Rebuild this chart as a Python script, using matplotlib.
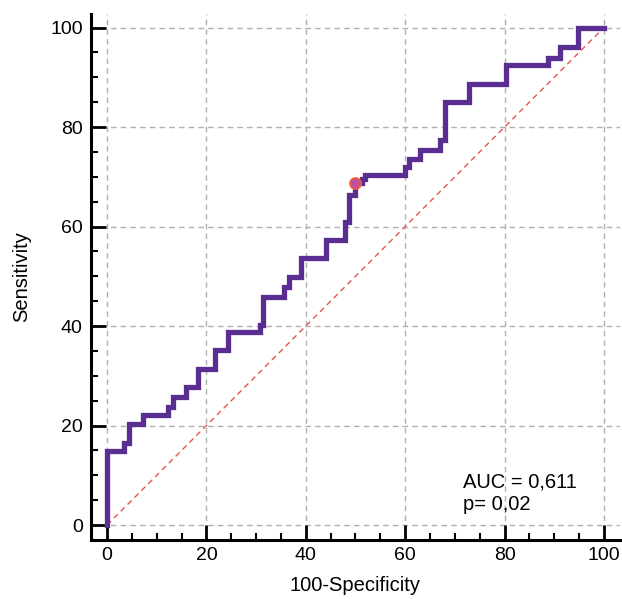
import numpy as np
import matplotlib
matplotlib.use("Agg")
import matplotlib.pyplot as plt
from matplotlib.ticker import MultipleLocator

plt.rcParams['font.family'] = ['Liberation Sans', 'DejaVu Sans']

# ROC curve corners (100-Specificity, Sensitivity), drawn as a post-step line
fpr = [0.0, 0.0, 3.5, 4.5, 7.2, 12.2, 13.2, 15.9, 18.4, 21.8, 24.3, 30.7,
       31.3, 35.6, 36.6, 39.0, 44.0, 47.9, 48.7, 50.0, 51.3, 52.0, 60.0,
       60.7, 63.0, 67.0, 68.1, 72.9, 80.2, 88.8, 91.2, 94.8, 100.0]
tpr = [0.0, 14.8, 16.4, 20.4, 22.1, 23.8, 25.8, 27.8, 31.3, 35.1, 38.8, 40.3,
       45.9, 47.9, 49.9, 53.6, 57.2, 60.9, 66.3, 68.7, 69.6, 70.3, 72.0,
       73.6, 75.3, 77.3, 85.0, 88.7, 92.4, 93.8, 96.0, 100.0, 100.0]

# optimal cut-off point
cut_x = [50.0]
cut_y = [68.7]

auc_text = "AUC = 0,611"
p_text = "p= 0,02"

fig = plt.figure(figsize=(6.22, 5.99), dpi=100)
ax = fig.add_axes([0.1465, 0.0985, 0.85, 0.878])

ax.set_xlim(-3.2, 103.2)
ax.set_ylim(-3.0, 102.7)

# grid only at major ticks
for v in range(0, 101, 20):
    ax.axvline(v, color='#b0b0b0', lw=1.0, ls=(0, (4, 3)), zorder=0)
    ax.axhline(v, color='#b0b0b0', lw=1.0, ls=(0, (4, 3)), zorder=0)

# reference diagonal
ax.plot([0, 100], [0, 100], color='#e05555', lw=1.0, ls=(0, (4, 3)), zorder=1)

ax.step(fpr, tpr, where='post', color='#5a2d91', lw=3.8,
        solid_joinstyle='miter', zorder=3)

ax.plot(cut_x, cut_y, 'o', ms=8, mfc='#c050a0', mec='#f06040', mew=1.2,
        zorder=4)

ax.text(71.7, 7.6, auc_text, fontsize=14.5, va='baseline')
ax.text(71.7, 3.0, p_text, fontsize=14.5, va='baseline')

ax.xaxis.set_major_locator(MultipleLocator(20))
ax.yaxis.set_major_locator(MultipleLocator(20))
# keep minor ticks inside the data range
ax.set_xticks([v for v in range(5, 100, 5) if v % 20], minor=True)
ax.set_yticks([v for v in range(5, 100, 5) if v % 20], minor=True)

ax.tick_params(which='major', direction='in', length=10.8, width=2.0,
               labelsize=14)
ax.tick_params(which='minor', direction='in', length=5.0, width=1.5)
ax.tick_params(axis='x', which='major', pad=5)
ax.tick_params(axis='y', which='major', pad=6)

for side in ['top', 'right']:
    ax.spines[side].set_visible(False)
for side in ['left', 'bottom']:
    ax.spines[side].set_linewidth(2.2)

ax.set_xlabel("100-Specificity", fontsize=14.5, labelpad=9)
ax.set_ylabel("Sensitivity", fontsize=14.5, labelpad=14)

fig.savefig("out.png", dpi=100)
